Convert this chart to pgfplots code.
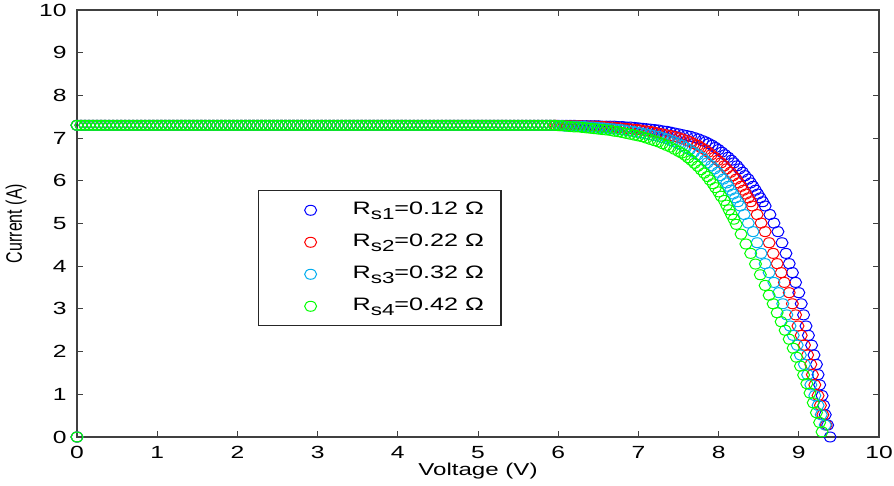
\documentclass[border=0pt]{standalone}
\usepackage{fontspec}
\setmainfont{Liberation Sans}[FakeStretch=1.4]
\newfontfamily\ylabfont{Liberation Sans}
\usepackage{pgfplots}
\usepackage{pgfplotstable}
\pgfplotsset{compat=1.18}

% flat part of the curves (common to all four series), plus the point at the origin
\pgfplotstableread[row sep=\\]{
x y\\
0 0\\
0.00 7.30\\ 0.05 7.30\\ 0.10 7.30\\ 0.15 7.30\\ 0.20 7.30\\ 0.25 7.30\\ 0.30 7.30\\ 0.35 7.30\\ 0.40 7.30\\ 0.45 7.30\\
0.50 7.30\\ 0.55 7.30\\ 0.60 7.30\\ 0.65 7.30\\ 0.70 7.30\\ 0.75 7.30\\ 0.80 7.30\\ 0.85 7.30\\ 0.90 7.30\\ 0.95 7.30\\
1.00 7.30\\ 1.05 7.30\\ 1.10 7.30\\ 1.15 7.30\\ 1.20 7.30\\ 1.25 7.30\\ 1.30 7.30\\ 1.35 7.30\\ 1.40 7.30\\ 1.45 7.30\\
1.50 7.30\\ 1.55 7.30\\ 1.60 7.30\\ 1.65 7.30\\ 1.70 7.30\\ 1.75 7.30\\ 1.80 7.30\\ 1.85 7.30\\ 1.90 7.30\\ 1.95 7.30\\
2.00 7.30\\ 2.05 7.30\\ 2.10 7.30\\ 2.15 7.30\\ 2.20 7.30\\ 2.25 7.30\\ 2.30 7.30\\ 2.35 7.30\\ 2.40 7.30\\ 2.45 7.30\\
2.50 7.30\\ 2.55 7.30\\ 2.60 7.30\\ 2.65 7.30\\ 2.70 7.30\\ 2.75 7.30\\ 2.80 7.30\\ 2.85 7.30\\ 2.90 7.30\\ 2.95 7.30\\
3.00 7.30\\ 3.05 7.30\\ 3.10 7.30\\ 3.15 7.30\\ 3.20 7.30\\ 3.25 7.30\\ 3.30 7.30\\ 3.35 7.30\\ 3.40 7.30\\ 3.45 7.30\\
3.50 7.30\\ 3.55 7.30\\ 3.60 7.30\\ 3.65 7.30\\ 3.70 7.30\\ 3.75 7.30\\ 3.80 7.30\\ 3.85 7.30\\ 3.90 7.30\\ 3.95 7.30\\
4.00 7.30\\ 4.05 7.30\\ 4.10 7.30\\ 4.15 7.30\\ 4.20 7.30\\ 4.25 7.30\\ 4.30 7.30\\ 4.35 7.30\\ 4.40 7.30\\ 4.45 7.30\\
4.50 7.30\\ 4.55 7.30\\ 4.60 7.30\\ 4.65 7.30\\ 4.70 7.30\\ 4.75 7.30\\ 4.80 7.30\\ 4.85 7.30\\ 4.90 7.30\\ 4.95 7.30\\
5.00 7.30\\ 5.05 7.30\\ 5.10 7.30\\ 5.15 7.30\\ 5.20 7.30\\ 5.25 7.30\\ 5.30 7.30\\ 5.35 7.30\\ 5.40 7.30\\ 5.45 7.30\\
5.50 7.30\\ 5.55 7.30\\ 5.60 7.30\\ 5.65 7.30\\ 5.70 7.30\\ 5.75 7.30\\ 5.80 7.30\\ 5.85 7.30\\ 5.90 7.30\\ 5.95 7.30\\
}\flatdata

\pgfplotsset{
  ivmark/.style={only marks, mark=o, mark size=2.5pt,
    mark options={line width=0.5pt, xscale=1.2}, draw=#1, color=#1},
}
\newcommand{\sub}[1]{\raisebox{-0.5ex}{\fontsize{8}{8}\selectfont #1}}

\begin{document}
\begin{tikzpicture}
\useasboundingbox (-38.5pt,-24.5pt) rectangle (408.5pt,218.5pt);
\begin{axis}[
  at={(0pt,0pt)}, anchor=south west,
  scale only axis, width=401pt, height=213.5pt,
  xmin=0, xmax=10, ymin=0, ymax=10,
  xtick={0,1,...,10}, ytick={0,1,...,10},
  tick align=inside, major tick length=3pt,
  axis line style={line width=0.7pt, black!75},
  tick style={line width=0.5pt, black!75},
  /pgf/number format/assume math mode=true,
  ticklabel style={font=\fontsize{8.8}{10}\selectfont, black},
  xticklabel style={yshift=-1.2pt},
  yticklabel style={xshift=-1.7pt},
  every axis x label/.style={at={(axis description cs:0.5,-0.08)}, anchor=center},
  every axis y label/.style={at={(axis description cs:-0.076,0.5)}, rotate=90, anchor=center},
  xlabel={\fontsize{8.6}{10}\selectfont Voltage (V)},
  ylabel={\scalebox{1}[1.4]{\ylabfont\fontsize{8}{9.6}\selectfont Current (A)}},
  legend cell align=left,
  legend style={at={(rel axis cs:0.2257,0.578)}, anchor=north west,
    draw=black!85, line width=0.6pt, fill=white,
    inner xsep=8.5pt, inner ysep=5.25pt, row sep=7pt, column sep=3.5pt,
    nodes={inner sep=0pt, text height=6.5pt, text depth=2.5pt,
      font=\fontsize{9}{10}\selectfont}},
  legend image code/.code={\path[draw=none,fill=none] (0pt,-2pt) rectangle (35pt,2pt);
    \draw[mark repeat=2,mark phase=2,#1]
    plot coordinates {(0pt,0pt) (17.5pt,0pt) (35pt,0pt)};},
]
% ---------- R_s1 (blue)
\addplot[ivmark=blue, forget plot] table {\flatdata};
\addplot[ivmark=blue] coordinates {
(6.00,7.30) (6.05,7.30) (6.10,7.30) (6.15,7.30) (6.20,7.30) (6.25,7.29) (6.30,7.29) (6.35,7.29)
(6.40,7.29) (6.45,7.29) (6.50,7.29) (6.55,7.28) (6.60,7.28) (6.65,7.28) (6.70,7.28) (6.75,7.27)
(6.80,7.27) (6.85,7.26) (6.90,7.26) (6.95,7.25) (7.00,7.24) (7.05,7.23) (7.10,7.22) (7.15,7.21)
(7.20,7.20) (7.25,7.19) (7.30,7.17) (7.35,7.16) (7.40,7.14) (7.45,7.12) (7.50,7.10) (7.55,7.08)
(7.60,7.06) (7.65,7.04) (7.70,7.01) (7.75,6.98) (7.80,6.94) (7.84,6.91) (7.88,6.87) (7.92,6.83)
(7.96,6.78) (8.00,6.73) (8.04,6.67) (8.08,6.61) (8.12,6.55) (8.16,6.48) (8.19,6.42) (8.23,6.35)
(8.26,6.28) (8.30,6.20) (8.33,6.12) (8.37,6.04) (8.40,5.95) (8.43,5.87) (8.46,5.78) (8.49,5.69)
(8.52,5.60) (8.55,5.51) (8.58,5.41) (8.64,5.21) (8.69,5.01)
(8.74,4.81) (8.79,4.55) (8.84,4.30) (8.88,4.06) (8.92,3.85) (8.96,3.62) (9.00,3.38) (9.03,3.12)
(9.06,2.86) (9.09,2.60) (9.12,2.38) (9.16,2.15) (9.19,1.92) (9.22,1.70) (9.24,1.46) (9.26,1.22)
(9.29,0.97) (9.31,0.74) (9.33,0.52) (9.36,0.28) (9.39,0.00)
};
\addlegendentry{R\sub{s1}=0.12 Ω}
% ---------- R_s2 (red)
\addplot[ivmark=red, forget plot] table {\flatdata};
\addplot[ivmark=red] coordinates {
(5.97,7.30) (6.02,7.29) (6.07,7.29) (6.12,7.29) (6.17,7.29) (6.22,7.29) (6.27,7.29) (6.32,7.28)
(6.37,7.28) (6.42,7.28) (6.47,7.28) (6.52,7.27) (6.57,7.27) (6.62,7.26) (6.67,7.26) (6.72,7.25)
(6.77,7.24) (6.83,7.23) (6.88,7.22) (6.93,7.21) (6.98,7.20) (7.03,7.19) (7.09,7.17) (7.14,7.16)
(7.19,7.14) (7.24,7.12) (7.29,7.10) (7.34,7.08) (7.40,7.06) (7.45,7.04) (7.50,7.01) (7.55,6.98)
(7.61,6.94) (7.65,6.91) (7.69,6.87) (7.74,6.83) (7.78,6.78) (7.83,6.73) (7.87,6.67) (7.91,6.61)
(7.95,6.55) (7.99,6.48) (8.03,6.42) (8.07,6.35) (8.10,6.28) (8.15,6.20) (8.18,6.12) (8.22,6.04)
(8.25,5.95) (8.28,5.87) (8.31,5.78) (8.34,5.69) (8.37,5.60) (8.40,5.51) (8.42,5.41)
(8.48,5.21) (8.53,5.01) (8.58,4.81) (8.63,4.55)
(8.68,4.30) (8.73,4.06) (8.78,3.85) (8.82,3.62) (8.88,3.38) (8.92,3.12) (8.96,2.86) (8.99,2.60)
(9.03,2.38) (9.07,2.15) (9.11,1.92) (9.15,1.70) (9.17,1.46) (9.20,1.22) (9.24,0.97) (9.27,0.74)
(9.30,0.52) (9.34,0.28)
};
\addlegendentry{R\sub{s2}=0.22 Ω}
% ---------- R_s3 (cyan)
\addplot[ivmark=cyan, forget plot] table {\flatdata};
\addplot[ivmark=cyan] coordinates {
(6.03,7.29) (6.08,7.28) (6.13,7.28) (6.18,7.28) (6.23,7.28) (6.28,7.27) (6.33,7.27) (6.38,7.26)
(6.43,7.26) (6.49,7.25) (6.55,7.24) (6.60,7.23) (6.66,7.22) (6.71,7.21) (6.77,7.20) (6.82,7.19)
(6.87,7.17) (6.93,7.16) (6.98,7.14) (7.03,7.12) (7.09,7.10) (7.14,7.08) (7.19,7.06) (7.25,7.04)
(7.30,7.01) (7.36,6.98) (7.41,6.94) (7.45,6.91) (7.50,6.87) (7.55,6.83) (7.59,6.78) (7.64,6.73)
(7.69,6.67) (7.74,6.61) (7.79,6.55) (7.83,6.48) (7.86,6.42) (7.91,6.35) (7.95,6.28) (7.99,6.20)
(8.02,6.12) (8.06,6.04) (8.10,5.95) (8.12,5.87) (8.15,5.78) (8.18,5.69) (8.21,5.60) (8.24,5.51)
(8.27,5.41) (8.32,5.21) (8.37,5.01) (8.43,4.81) (8.48,4.55) (8.53,4.30) (8.58,4.06) (8.63,3.85)
(8.69,3.62) (8.75,3.38) (8.80,3.12) (8.85,2.86) (8.89,2.60) (8.93,2.38) (8.98,2.15) (9.02,1.92)
(9.07,1.70) (9.11,1.46) (9.15,1.22) (9.20,0.97) (9.24,0.74) (9.28,0.52) (9.33,0.28)
};
\addlegendentry{R\sub{s3}=0.32 Ω}
% ---------- R_s4 (green)
\addplot[ivmark=green, forget plot] table {\flatdata};
\addplot[ivmark=green] coordinates {
(6.00,7.29) (6.05,7.29) (6.10,7.28) (6.15,7.27) (6.20,7.26) (6.25,7.26) (6.30,7.25) (6.35,7.24)
(6.40,7.23) (6.45,7.22) (6.50,7.21) (6.55,7.20) (6.60,7.19) (6.65,7.18) (6.70,7.16) (6.75,7.15)
(6.80,7.13) (6.85,7.11) (6.90,7.09) (6.95,7.07) (7.00,7.05) (7.05,7.03) (7.10,7.00) (7.15,6.97)
(7.20,6.94) (7.25,6.91) (7.30,6.87) (7.35,6.83) (7.40,6.79) (7.45,6.74) (7.50,6.69) (7.54,6.65)
(7.58,6.60) (7.62,6.54) (7.66,6.48) (7.70,6.41) (7.74,6.34) (7.78,6.26) (7.82,6.18) (7.86,6.10)
(7.89,6.02) (7.93,5.93) (7.96,5.84) (8.00,5.74) (8.03,5.64) (8.07,5.54) (8.10,5.43) (8.13,5.32)
(8.16,5.21) (8.19,5.10) (8.22,4.98) (8.28,4.75) (8.34,4.52) (8.40,4.30) (8.46,4.05) (8.52,3.80)
(8.58,3.55) (8.63,3.32) (8.68,3.12) (8.73,2.91) (8.78,2.70) (8.83,2.50) (8.88,2.29) (8.93,2.08)
(8.97,1.87) (9.02,1.66) (9.06,1.45) (9.10,1.25) (9.14,1.03) (9.18,0.80) (9.22,0.57) (9.26,0.34)
(9.29,0.12)
};
\addlegendentry{R\sub{s4}=0.42 Ω}
\end{axis}
\end{tikzpicture}
\end{document}
